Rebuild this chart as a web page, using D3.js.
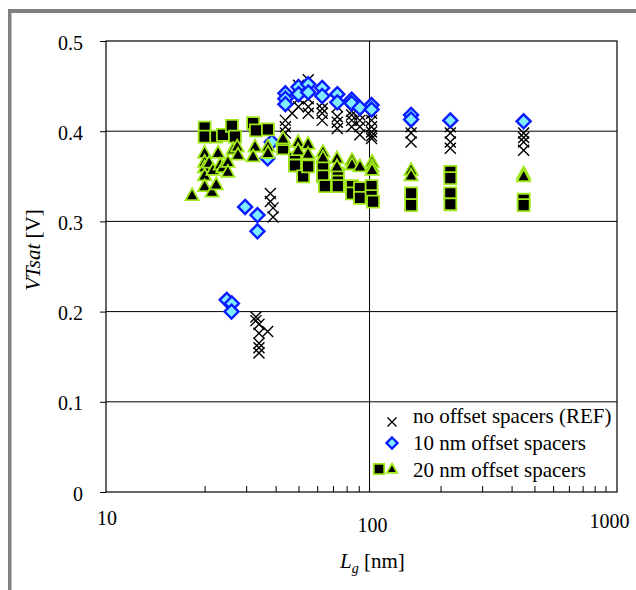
<!DOCTYPE html>
<html>
<head>
<meta charset="utf-8">
<script src="https://cdn.jsdelivr.net/npm/d3@7"></script>
<style>
  body { margin: 0; background: #fff; }
  svg { display: block; }
  svg text { font-family: "Liberation Serif", "Times New Roman", Times, "DejaVu Serif", serif; fill: #000; }
</style>
</head>
<body>
<div id="chart"></div>
<script>
// [Lg (nm), VTsat (V)]
const refPoints = [
  [44, 0.405], [44, 0.412], [44, 0.398], [47, 0.420], [50, 0.427], [50, 0.451],
  [50, 0.436], [55, 0.457], [55, 0.449], [55, 0.436], [55, 0.427], [55, 0.420],
  [63, 0.431], [63, 0.425], [63, 0.420], [63, 0.412], [73, 0.427], [73, 0.416],
  [73, 0.410], [73, 0.403], [84, 0.422], [84, 0.418], [84, 0.412], [84, 0.405],
  [91, 0.418], [91, 0.412], [91, 0.405], [91, 0.396], [102, 0.420], [102, 0.412],
  [102, 0.405], [102, 0.399], [102, 0.395], [102, 0.392], [150, 0.405], [150, 0.398],
  [150, 0.388], [220, 0.405], [220, 0.398], [220, 0.388], [220, 0.381], [450, 0.398],
  [450, 0.393], [450, 0.388], [450, 0.379],
  [38, 0.331], [38, 0.322], [39, 0.315], [39, 0.305],
  [33, 0.194], [33, 0.190], [34, 0.186], [37, 0.178], [34, 0.176], [34, 0.165],
  [34, 0.160], [34, 0.154]
];

const offset10Points = [
  [44, 0.442], [44, 0.436], [44, 0.430], [50, 0.449], [50, 0.441], [55, 0.452],
  [55, 0.443], [63, 0.448], [63, 0.439], [73, 0.441], [73, 0.432], [84, 0.435],
  [84, 0.431], [91, 0.426], [102, 0.429], [102, 0.424], [150, 0.418], [150, 0.413],
  [220, 0.412], [450, 0.411],
  [38.5, 0.388], [37, 0.370],
  [29.7, 0.316], [33.5, 0.307], [33.5, 0.289],
  [24.8, 0.213], [26.1, 0.209], [26, 0.200]
];

const offset20Squares = [
  [20, 0.404], [20, 0.394], [22.4, 0.394], [23.9, 0.396], [26.1, 0.406], [26.9, 0.394],
  [32.1, 0.409], [33, 0.401], [37.1, 0.402], [43, 0.381], [48.3, 0.370], [48.3, 0.362],
  [52.3, 0.350], [54.9, 0.361], [63.5, 0.361], [63.5, 0.350], [64.7, 0.339],
  [73.4, 0.353], [73.4, 0.344], [73.4, 0.339], [84.3, 0.339], [84.3, 0.331],
  [91.1, 0.337], [91.1, 0.326], [102, 0.339], [102, 0.328], [103.5, 0.322],
  [150, 0.331], [150, 0.318], [220, 0.355], [220, 0.348], [220, 0.331], [220, 0.319],
  [450, 0.324], [450, 0.318]
];

const offset20Triangles = [
  [17.7, 0.329], [20, 0.376], [20, 0.366], [20, 0.360], [20, 0.351], [20, 0.339],
  [20.9, 0.365], [21.7, 0.357], [21.5, 0.333], [22.4, 0.341], [22.8, 0.376],
  [23.3, 0.363], [23.9, 0.360], [25.1, 0.366], [25.1, 0.355], [26.4, 0.380],
  [27.5, 0.383], [27.7, 0.374], [32.7, 0.383], [32.1, 0.372], [37.1, 0.383],
  [37.1, 0.376], [43, 0.390], [43, 0.392], [49.8, 0.388], [49.8, 0.379],
  [54.9, 0.386], [54.9, 0.375], [63.5, 0.377], [63.5, 0.371], [72.8, 0.370],
  [72.8, 0.361], [84.3, 0.368], [84.3, 0.363], [91.1, 0.361], [102.5, 0.366],
  [102.5, 0.361], [102.5, 0.357], [150, 0.357], [150, 0.351], [450, 0.353], [450, 0.350]
];

const yTicks = [0, 0.1, 0.2, 0.3, 0.4, 0.5];
const yGrid = [0.1, 0.2, 0.3, 0.4];
const xGrid = [100];
const xMinorTicks = [20, 30, 40, 50, 60, 70, 80, 90, 200, 300, 400, 500, 600, 700, 800, 900, 1000];
const xLabels = ["10", "100", "1000"];
const legendLabels = ["no offset spacers (REF)", "10 nm offset spacers", "20 nm offset spacers"];

const width = 636, height = 590;
const plot = { left: 106, right: 617, top: 41, bottom: 492 };

const svg = d3.select("#chart").append("svg")
  .attr("width", width)
  .attr("height", height);

// grey frame (top + left edge)
svg.append("rect").attr("x", 8).attr("y", 9).attr("width", width - 8).attr("height", 4).attr("fill", "#808080");
svg.append("rect").attr("x", 8).attr("y", 9).attr("width", 3.5).attr("height", height - 9).attr("fill", "#808080");

// the log axis in the picture runs a little past one decade either side of 100
const x = d3.scaleLog().domain([7.64, 1119]).range([plot.left, plot.right]);
const y = d3.scaleLinear().domain([0, 0.5]).range([plot.bottom, plot.top]);

const grid = svg.append("g").attr("stroke", "#000").attr("stroke-width", 1);
grid.selectAll(".hg").data(yGrid).join("line")
  .attr("x1", plot.left).attr("x2", plot.right)
  .attr("y1", d => y(d)).attr("y2", d => y(d));
grid.selectAll(".vg").data(xGrid).join("line")
  .attr("x1", d => x(d)).attr("x2", d => x(d))
  .attr("y1", plot.top).attr("y2", plot.bottom);

svg.append("rect")
  .attr("x", plot.left).attr("y", plot.top)
  .attr("width", plot.right - plot.left).attr("height", plot.bottom - plot.top)
  .attr("fill", "none").attr("stroke", "#000").attr("stroke-width", 1.2);

// axes
const axisY = d3.axisLeft(y).tickValues(yTicks).tickSize(6).tickPadding(17)
  .tickFormat(d => d === 0 ? "0" : d.toFixed(1));
const gy = svg.append("g").attr("transform", `translate(${plot.left},0)`).call(axisY);
gy.attr("font-family", null).attr("font-size", 20);
gy.select(".domain").remove();
gy.selectAll("text").attr("dy", "0.4em");

const axisX = d3.axisBottom(x).tickValues(xMinorTicks).tickSize(-6).tickFormat("");
const gx = svg.append("g").attr("transform", `translate(0,${plot.bottom})`).call(axisX);
gx.select(".domain").remove();

// decade labels, placed as in the picture
const xLabelPos = [
  { x: plot.left + 1, y: 525 },
  { x: x(100) + 3, y: 532 },
  { x: x(1000) + 4, y: 528 }
];
svg.append("g").selectAll("text").data(xLabels).join("text")
  .attr("x", (d, i) => xLabelPos[i].x)
  .attr("y", (d, i) => xLabelPos[i].y)
  .attr("text-anchor", "middle")
  .attr("font-size", 20)
  .text(d => d);

// axis titles
const xt = svg.append("text").attr("x", 340).attr("y", 568).attr("font-size", 21);
xt.append("tspan").attr("font-style", "italic").text("L");
xt.append("tspan").attr("font-style", "italic").attr("font-size", 14).attr("dy", 5).text("g");
xt.append("tspan").attr("dy", -5).text(" [nm]");

const yt = svg.append("text")
  .attr("transform", "translate(40,250) rotate(-90)")
  .attr("text-anchor", "middle")
  .attr("font-size", 21);
yt.append("tspan").attr("font-style", "italic").text("VTsat");
yt.append("tspan").text(" [V]");

// marker shapes
const crossPath = s => `M${-s},${-s}L${s},${s}M${-s},${s}L${s},${-s}`;
const diamondPath = s => `M0,${-s}L${s},0L0,${s}L${-s},0Z`;
const squarePath = s => `M${-s},${-s}H${s}V${s}H${-s}Z`;
const trianglePath = s => `M0,${-s * 1.05}L${s},${s * 0.75}H${-s}Z`;

const styles = {
  cross: { d: crossPath(5.5), fill: "none", stroke: "#000", sw: 1.4 },
  diamond: { d: diamondPath(7), fill: "#80ecff", stroke: "#0a1cff", sw: 2.4 },
  square: { d: squarePath(6), fill: "#000", stroke: "#a0e81a", sw: 1.8 },
  triangle: { d: trianglePath(6.6), fill: "#000", stroke: "#a0e81a", sw: 1.8 }
};

function drawSeries(points, st) {
  svg.append("g").selectAll("path").data(points).join("path")
    .attr("transform", d => `translate(${x(d[0])},${y(d[1])})`)
    .attr("d", st.d)
    .attr("fill", st.fill)
    .attr("stroke", st.stroke)
    .attr("stroke-width", st.sw);
}

drawSeries(refPoints, styles.cross);
drawSeries(offset10Points, styles.diamond);
drawSeries(offset20Squares, styles.square);
drawSeries(offset20Triangles, styles.triangle);

// legend
const legend = svg.append("g");
const rowY = [423, 450, 477];
legend.selectAll("text").data(legendLabels).join("text")
  .attr("x", 413).attr("y", (d, i) => rowY[i])
  .attr("font-size", 21)
  .text(d => d);

function legendMark(d, cx, cy, st) {
  legend.append("path")
    .attr("transform", `translate(${cx},${cy})`)
    .attr("d", d)
    .attr("fill", st.fill).attr("stroke", st.stroke).attr("stroke-width", st.sw);
}
legendMark(crossPath(4.5), 392, rowY[0] - 1, styles.cross);
legendMark(diamondPath(5.5), 392, rowY[1] - 7, styles.diamond);
legendMark(squarePath(5.2), 379, rowY[2] - 8, styles.square);
legendMark(trianglePath(5.2), 392, rowY[2] - 8, styles.triangle);
</script>
</body>
</html>
